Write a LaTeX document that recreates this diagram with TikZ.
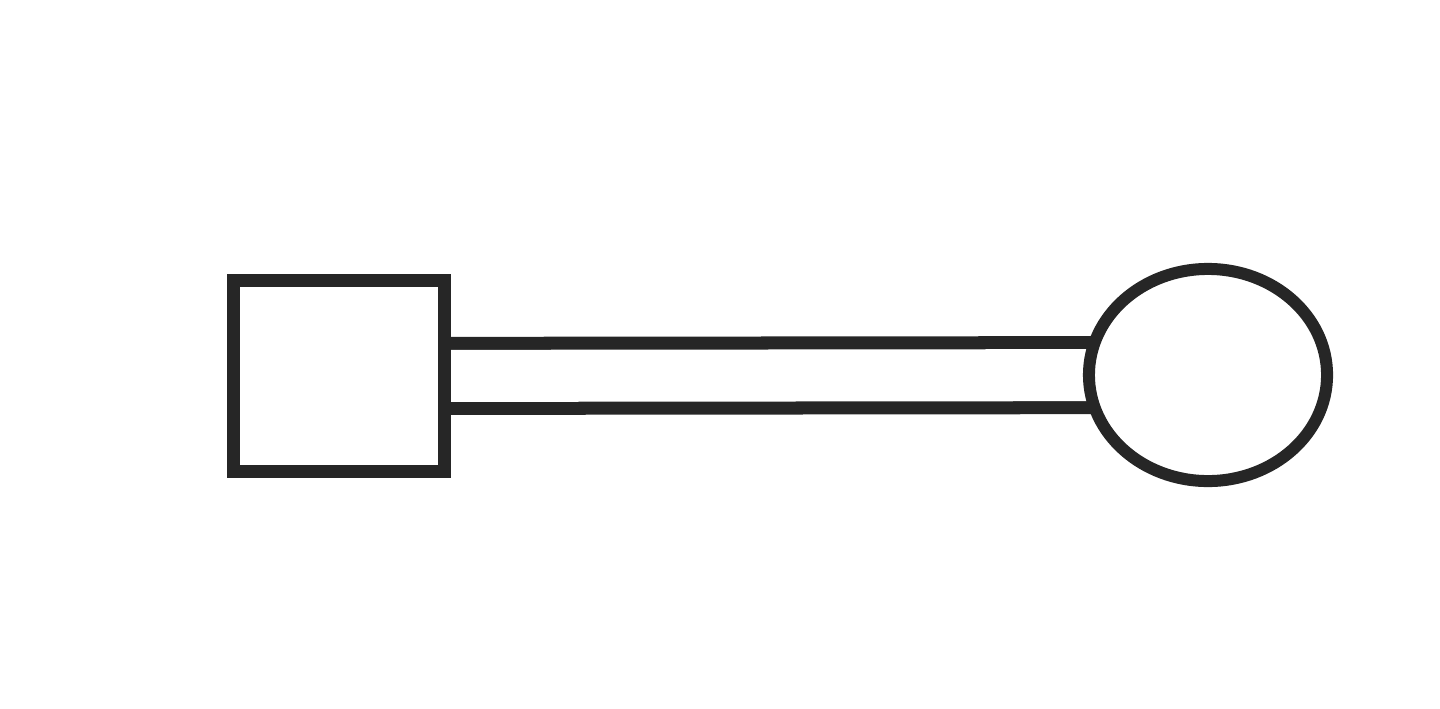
\documentclass[tikz,border=0pt]{standalone}
\usetikzlibrary{shapes.geometric, backgrounds}

\begin{document}
\begin{tikzpicture}[
    x=0.01cm, y=0.01cm,
    outline/.style={draw=black!85, line width=0.13cm, fill=white, inner sep=0pt},
    box/.style={outline, rectangle, minimum width=2.10cm, minimum height=1.90cm},
    bulb/.style={outline, ellipse, line width=0.12cm, minimum width=2.38cm, minimum height=2.12cm},
    stem/.style={draw=black!85, line width=0.13cm, double=white, double distance=0.52cm},
    ]
    \useasboundingbox (0,0) rectangle (1440,708);
    \node[box] (sq) at (339,332) {};
    \node[bulb] (head) at (1208,333) {};
    \begin{pgfonlayer}{background}
        \draw[stem] (sq.center) -- (head.center);
    \end{pgfonlayer}
\end{tikzpicture}
\end{document}
